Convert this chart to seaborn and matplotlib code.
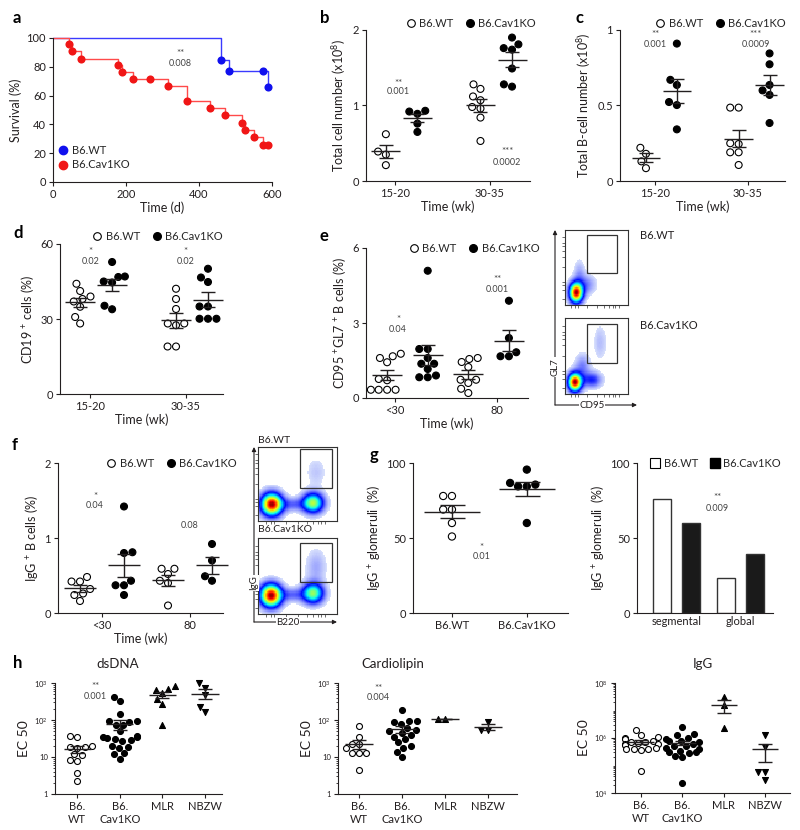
import warnings
import numpy as np
import pandas as pd
import matplotlib
matplotlib.use("Agg")
import matplotlib.pyplot as plt
import seaborn as sns
from matplotlib.lines import Line2D
from matplotlib.patches import Rectangle
from matplotlib.colors import ListedColormap, to_rgba
from matplotlib.ticker import LogLocator, NullFormatter

warnings.filterwarnings("ignore")

# ---------------- data ----------------
# a: survival curves
surv_wt_days = [0, 460, 482, 575, 588]
surv_wt_pct = [100, 85, 77, 77, 66]
surv_ko_days = [0, 43, 52, 78, 179, 188, 218, 266, 316, 366, 429, 470, 519, 527, 551, 575, 589]
surv_ko_pct = [100, 95.6, 90.8, 85.7, 81.3, 76.5, 71.4, 71.4, 66.6, 56.2, 51.2, 46.3, 41.0, 36.0, 31.0, 25.6, 25.6]

# b: total cell number (x10^8)
b_wt_1520 = [0.62, 0.39, 0.35, 0.21]
b_ko_1520 = [0.92, 0.89, 0.93, 0.76, 0.65]
b_wt_3035 = [1.22, 1.28, 1.12, 1.07, 0.96, 0.98, 0.84, 0.53]
b_ko_3035 = [1.81, 1.90, 1.74, 1.76, 1.49, 1.25, 1.28]

# c: total B-cell number (x10^8)
c_wt_1520 = [0.22, 0.18, 0.13, 0.085]
c_ko_1520 = [0.91, 0.67, 0.636, 0.523, 0.503, 0.342]
c_wt_3035 = [0.486, 0.486, 0.25, 0.245, 0.19, 0.19, 0.106]
c_ko_3035 = [0.845, 0.773, 0.636, 0.60, 0.57, 0.384]

# d: CD19+ cells (%)
d_wt_1520 = [44.1, 41.2, 39.0, 37.0, 38.0, 34.9, 30.8, 28.2]
d_ko_1520 = [52.8, 47.0, 46.8, 45.0, 44.6, 35.3, 33.9]
d_wt_3035 = [42.1, 38.0, 34.0, 28.2, 27.5, 28.2, 19.0, 19.0]
d_ko_3035 = [50.1, 44.8, 46.6, 35.0, 35.0, 30.1, 30.1, 30.1]

# e: CD95+GL7+ B cells (%)
e_wt_lt30 = [1.67, 1.43, 1.77, 1.60, 0.76, 0.71, 0.33, 0.33, 0.33, 0.33]
e_ko_lt30 = [5.09, 1.96, 1.96, 1.60, 1.37, 1.37, 1.16, 0.90, 0.83, 0.83]
e_wt_80 = [1.56, 1.60, 1.44, 1.24, 0.73, 0.60, 0.73, 0.37, 0.20]
e_ko_80 = [3.89, 2.40, 1.83, 1.67, 1.67]

# f: IgG+ B cells (%)
f_wt_lt30 = [0.42, 0.48, 0.42, 0.26, 0.32, 0.24, 0.16]
f_ko_lt30 = [1.42, 0.80, 0.81, 0.37, 0.37, 0.43, 0.24]
f_wt_80 = [0.59, 0.59, 0.52, 0.43, 0.40, 0.10]
f_ko_80 = [0.92, 0.70, 0.43, 0.49]

# g: IgG+ glomeruli (%)
g_wt = [78, 78, 69, 69, 60, 51]
g_ko = [95.6, 86.7, 84.4, 84.4, 85.6, 60]
g_bar_type = ["segmental", "segmental", "global", "global"]
g_bar_geno = ["B6.WT", "B6.Cav1KO", "B6.WT", "B6.Cav1KO"]
g_bar_pct = [76.2, 59.8, 23.1, 39.6]

# h: EC50
dsdna_wt = [38, 35, 20, 19, 18, 19, 12, 11, 8.5, 8, 3.6, 2.3]
dsdna_ko = [427, 325, 142, 95, 92, 90, 75, 72, 50, 38, 35, 35, 33, 30, 28, 27, 20, 19, 18, 13, 12, 9]
dsdna_mlr = [690, 830, 645, 525, 370, 265, 73]
dsdna_nbzw = [980, 745, 475, 230, 168]
cardio_wt = [68, 35, 23, 22, 17, 13, 12.5, 12.5, 4.5]
cardio_ko = [190, 95, 95, 90, 80, 62, 55, 50, 45, 40, 35, 30, 25, 20, 18, 14, 10]
cardio_mlr = [105, 105]
cardio_nbzw = [89, 55, 55]
igg_wt = [2.0e6, 1.3e6, 1.1e6, 1.0e6, 9e5, 8e5, 7e5, 7e5, 6.5e5, 6e5, 6e5, 5.5e5, 4.5e5, 4e5, 4e5, 4e5, 3.8e5, 6.5e4]
igg_ko = [2.5e6, 1.4e6, 1.3e6, 1.0e6, 9e5, 8e5, 8e5, 7e5, 6e5, 5e5, 5e5, 4.5e5, 4e5, 3.5e5, 3e5, 3e5, 2.8e5, 2.2e5, 2e5, 2.3e4]
igg_mlr = [3.1e7, 1.6e7, 2.4e6]
igg_nbzw = [1.3e6, 4.7e5, 5.6e4, 5.6e4, 2.9e4]

# flow cytometry sketches: populations (x, y, sx, sy, weight) and gates (x0, y0, x1, y1)
e_wt_pops = [(0.17, 0.16, 0.07, 0.09, 1.0), (0.33, 0.27, 0.10, 0.09, 0.12), (0.22, 0.42, 0.06, 0.12, 0.08)]
e_ko_pops = [(0.15, 0.15, 0.07, 0.08, 1.0), (0.42, 0.18, 0.11, 0.07, 0.22), (0.56, 0.68, 0.08, 0.16, 0.06),
             (0.27, 0.36, 0.08, 0.11, 0.12)]
f_wt_pops = [(0.17, 0.22, 0.09, 0.10, 1.0), (0.70, 0.24, 0.09, 0.09, 0.62), (0.44, 0.22, 0.12, 0.06, 0.14),
             (0.74, 0.66, 0.09, 0.14, 0.05)]
f_ko_pops = [(0.16, 0.24, 0.09, 0.10, 1.0), (0.70, 0.27, 0.09, 0.09, 0.58), (0.44, 0.25, 0.12, 0.06, 0.14),
             (0.74, 0.62, 0.09, 0.16, 0.08)]
e_gates = [(0.35, 0.43, 0.83, 0.93), (0.35, 0.41, 0.83, 0.92)]
f_gates = [(0.53, 0.45, 0.94, 0.97), (0.53, 0.42, 0.94, 0.93)]

# ---------------- style ----------------
sns.set_theme(style="ticks")
plt.rcParams["font.family"] = ["Lato", "DejaVu Sans"]
plt.rcParams["mathtext.default"] = "regular"
INK = "#231f20"
PAL = {"B6.WT": "white", "B6.Cav1KO": "black"}
RED_DOT, RED_LINE = "#f01616", "#ff4a4a"
BLUE_DOT, BLUE_LINE = "#1010ee", "#3a3aff"
_jet = plt.get_cmap("jet")(np.linspace(0.14, 0.98, 200))
_pale = np.linspace(np.array(to_rgba("#d6defc")), _jet[0], 56)
FLOW_CMAP = ListedColormap(np.vstack([_pale, _jet]))

fig = plt.figure(figsize=(8, 8.3), dpi=100)


def box(l, t, r, b):
    return [l / 800, 1 - b / 830, (r - l) / 800, (b - t) / 830]


def style(ax, labelsize=8):
    sns.despine(ax=ax)
    for s in ("left", "bottom"):
        ax.spines[s].set_color(INK)
        ax.spines[s].set_linewidth(0.8)
    ax.tick_params(length=3, width=0.8, labelsize=labelsize, color=INK, labelcolor=INK, pad=2)
    ax.tick_params(which="minor", length=1.8, width=0.6, color=INK)


def note(ax, x, y, s, size=6.5):
    ax.text(x, y, s, ha="center", va="center", fontsize=size, color="#444444")


def geno_legend(ax, x, y, marker="o", ms=5.5):
    h = [Line2D([], [], marker=marker, ls="", mfc="white", mec="black", mew=0.8, ms=ms, label="B6.WT"),
         Line2D([], [], marker=marker, ls="", mfc="black", mec="black", ms=ms, label="B6.Cav1KO")]
    ax.legend(handles=h, loc="center", bbox_to_anchor=(x, y), ncol=2, frameon=False, fontsize=8,
              handletextpad=0.35, columnspacing=1.1, handlelength=0.8, borderaxespad=0, borderpad=0)


def tidy(groups):
    return pd.concat([pd.DataFrame({"slot": s, "geno": g, "val": v}) for s, g, v in groups],
                     ignore_index=True)


def mean_sem(ax, df, order, half, cap):
    st = df.groupby("slot")["val"].agg(["mean", "sem"])
    for slot, row in st.iterrows():
        x = order.index(slot)
        ax.hlines(row["mean"], x - half, x + half, color=INK, lw=1, zorder=4)
        ax.errorbar(x, row["mean"], yerr=row["sem"], fmt="none", ecolor=INK, elinewidth=1,
                    capsize=cap, capthick=1, zorder=4)


def dot_panel(rect, groups, order, xlim, ticks, ticklabels, ylim, yticks, ylabel, half, cap=4.7):
    ax = fig.add_axes(box(*rect))
    df = tidy(groups)
    sns.swarmplot(data=df, x="slot", y="val", hue="geno", order=order, palette=PAL, size=5,
                  edgecolor="black", linewidth=0.8, legend=False, ax=ax, zorder=3)
    mean_sem(ax, df, order, half, cap)
    ax.set_xlim(*xlim)
    ax.set_ylim(*ylim)
    ax.set_yticks(yticks)
    ax.set_xticks(ticks, ticklabels)
    ax.set_ylabel(ylabel, fontsize=9, color=INK, labelpad=3)
    ax.set_xlabel("Time (wk)", fontsize=9, color=INK, labelpad=1)
    style(ax)
    for c in ax.collections:
        c.set_clip_on(False)
    return ax


# ---------------- a: survival ----------------
ax = fig.add_axes(box(53, 38, 272, 182))
sns.lineplot(x=surv_wt_days, y=surv_wt_pct, drawstyle="steps-post", estimator=None,
             color=BLUE_LINE, lw=1, clip_on=False, ax=ax)
sns.lineplot(x=surv_ko_days, y=surv_ko_pct, drawstyle="steps-post", estimator=None,
             color=RED_LINE, lw=1, clip_on=False, ax=ax)
sns.scatterplot(x=surv_wt_days[1:], y=surv_wt_pct[1:], color=BLUE_DOT, s=34, linewidth=0, ax=ax, zorder=3)
sns.scatterplot(x=surv_ko_days[1:], y=surv_ko_pct[1:], color=RED_DOT, s=34, linewidth=0, ax=ax, zorder=3)
ax.set_xlim(0, 600)
ax.set_ylim(0, 100)
ax.set_xticks([0, 200, 400, 600])
ax.set_yticks([0, 20, 40, 60, 80, 100])
ax.set_xlabel("Time (d)", fontsize=9, color=INK, labelpad=1)
ax.set_ylabel("Survival (%)", fontsize=9, color=INK, labelpad=3)
style(ax)
note(ax, 348, 89, "**", 7)
note(ax, 348, 82, "0.008")
ax.legend(handles=[Line2D([], [], marker="o", ls="", color=BLUE_DOT, ms=6, label="B6.WT"),
                   Line2D([], [], marker="o", ls="", color=RED_DOT, ms=6, label="B6.Cav1KO")],
          loc="lower left", bbox_to_anchor=(0.02, 0.08), frameon=False, fontsize=8,
          handletextpad=0.3, labelspacing=0.35, handlelength=1.0, borderaxespad=0, borderpad=0)

ORD5 = ["wt1", "ko1", "gap", "wt2", "ko2"]
ORD4 = ["wt1", "ko1", "wt2", "ko2"]

# ---------------- b ----------------
ax = dot_panel((366, 30, 530, 181),
               [("wt1", "B6.WT", b_wt_1520), ("ko1", "B6.Cav1KO", b_ko_1520),
                ("wt2", "B6.WT", b_wt_3035), ("ko2", "B6.Cav1KO", b_ko_3035)],
               ORD5, (-0.63, 4.57), [0.3, 3.3], ["15-20", "30-35"], (0, 2), [0, 1, 2],
               "Total cell number (x10$^{8}$)", 0.46)
note(ax, 0.39, 1.29, "**", 7)
note(ax, 0.39, 1.18, "0.001")
note(ax, 3.85, 0.39, "***", 7)
note(ax, 3.85, 0.25, "0.0002")
geno_legend(ax, 0.64, 1.046)

# ---------------- c ----------------
ax = dot_panel((620, 30, 785, 181),
               [("wt1", "B6.WT", c_wt_1520), ("ko1", "B6.Cav1KO", c_ko_1520),
                ("wt2", "B6.WT", c_wt_3035), ("ko2", "B6.Cav1KO", c_ko_3035)],
               ORD5, (-0.84, 4.5), [0.3, 3.3], ["15-20", "30-35"], (0, 1), [0, 0.5, 1],
               "Total B-cell number (x10$^{8}$)", 0.46)
ax.set_yticklabels(["0", "0.5", "1"])
note(ax, 0.3, 0.97, "**", 7)
note(ax, 0.3, 0.905, "0.001")
note(ax, 3.56, 0.97, "***", 7)
note(ax, 3.56, 0.905, "0.0009")
geno_legend(ax, 0.61, 1.046)

# ---------------- d ----------------
ax = dot_panel((60, 244, 223, 394),
               [("wt1", "B6.WT", d_wt_1520), ("ko1", "B6.Cav1KO", d_ko_1520),
                ("wt2", "B6.WT", d_wt_3035), ("ko2", "B6.Cav1KO", d_ko_3035)],
               ORD5, (-0.63, 4.47), [0.3, 3.3], ["15-20", "30-35"], (0, 60), [0, 30, 60],
               "CD19 $^{+}$ cells (%)", 0.46)
note(ax, 0.32, 57.1, "*", 7)
note(ax, 0.32, 53, "0.02")
note(ax, 3.3, 57.1, "*", 7)
note(ax, 3.3, 53, "0.02")
geno_legend(ax, 0.6, 1.053)

# ---------------- e ----------------
ax = dot_panel((366, 248, 528, 398),
               [("wt1", "B6.WT", e_wt_lt30), ("ko1", "B6.Cav1KO", e_ko_lt30),
                ("wt2", "B6.WT", e_wt_80), ("ko2", "B6.Cav1KO", e_ko_80)],
               ORD4, (-0.52, 3.47), [0.2, 2.7], ["<30", "80"], (0, 6), [0, 3, 6],
               "CD95 $^{+}$GL7 $^{+}$ B cells (%)", 0.37)
note(ax, 0.27, 3.13, "*", 7)
note(ax, 0.27, 2.76, "0.04")
note(ax, 2.71, 4.73, "**", 7)
note(ax, 2.71, 4.33, "0.001")
geno_legend(ax, 0.67, 1.0)

# ---------------- f ----------------
ax = dot_panel((58, 463, 223, 613),
               [("wt1", "B6.WT", f_wt_lt30), ("ko1", "B6.Cav1KO", f_ko_lt30),
                ("wt2", "B6.WT", f_wt_80), ("ko2", "B6.Cav1KO", f_ko_80)],
               ORD4, (-0.5, 3.25), [0.5, 2.5], ["<30", "80"], (0, 2), [0, 1, 2],
               "IgG $^{+}$ B cells (%)", 0.37)
note(ax, 0.34, 1.56, "*", 7)
note(ax, 0.34, 1.43, "0.04")
note(ax, 2.5, 1.17, "0.08")
geno_legend(ax, 0.69, 1.0)


# ---------------- flow cytometry sketches ----------------
def flow_panel(rect, pops, gate, n=64):
    fax = fig.add_axes(box(*rect))
    grid = np.linspace(0, 1, n)
    gx, gy = np.meshgrid(grid, grid)
    dens = np.zeros_like(gx)
    for cx, cy, sx, sy, w in pops:
        dens += w * np.exp(-((gx - cx) ** 2 / (2 * sx ** 2) + (gy - cy) ** 2 / (2 * sy ** 2)))
    sns.heatmap(dens, mask=dens < 0.025, cmap=FLOW_CMAP, vmin=0.025, vmax=dens.max(), cbar=False,
                xticklabels=False, yticklabels=False, ax=fax)
    fax.invert_yaxis()
    x0, y0, x1, y1 = gate
    fax.add_patch(Rectangle((x0 * n, y0 * n), (x1 - x0) * n, (y1 - y0) * n, fill=False, ec="#333333", lw=0.9))
    for sp in fax.spines.values():
        sp.set_visible(True)
        sp.set_color("#333333")
        sp.set_linewidth(0.8)
    fax.set_xticks(np.array([0.1, 0.16, 0.2, 0.35, 0.5, 0.62, 0.7, 0.76, 0.8, 0.85]) * n)
    fax.set_yticks(np.array([0.08, 0.2, 0.26, 0.3, 0.5, 0.64, 0.72, 0.78, 0.82, 0.9]) * n)
    fax.tick_params(length=2, width=0.5, color="#333333", labelleft=False, labelbottom=False)
    return fax


flow_panel((565, 230, 628, 305), e_wt_pops, e_gates[0])
flow_panel((565, 318, 628, 394), e_ko_pops, e_gates[1])
flow_panel((258, 447, 337, 521), f_wt_pops, f_gates[0])
flow_panel((258, 538, 337, 614), f_ko_pops, f_gates[1])

# ---------------- g left ----------------
ax = fig.add_axes(box(413, 463, 568, 613))
gdf = tidy([("B6.WT", "B6.WT", g_wt), ("B6.Cav1KO", "B6.Cav1KO", g_ko)])
g_order = ["B6.WT", "B6.Cav1KO"]
sns.swarmplot(data=gdf, x="slot", y="val", hue="geno", order=g_order, palette=PAL, size=5.2,
              edgecolor="black", linewidth=0.8, legend=False, ax=ax, zorder=3)
mean_sem(ax, gdf, g_order, 0.37, 9)
ax.set_xlim(-0.52, 1.55)
ax.set_ylim(0, 100)
ax.set_yticks([0, 50, 100])
ax.set_xticks([0, 1], g_order)
ax.set_xlabel("")
ax.set_ylabel("IgG $^{+}$ glomeruli  (%)", fontsize=9, color=INK, labelpad=3)
style(ax)
note(ax, 0.4, 44, "*", 7)
note(ax, 0.4, 37.8, "0.01")

# ---------------- g right ----------------
ax = fig.add_axes(box(637, 463, 773, 613))
sns.barplot(x=g_bar_type, y=g_bar_pct, hue=g_bar_geno, order=["segmental", "global"],
            hue_order=g_order, palette={"B6.WT": "white", "B6.Cav1KO": "#1a1a1a"},
            edgecolor="#333333", linewidth=1, width=0.92, gap=0.38, errorbar=None,
            legend=False, ax=ax)
ax.set_xlim(-0.63, 1.52)
ax.set_ylim(0, 100)
ax.set_yticks([0, 50, 100])
ax.set_ylabel("IgG $^{+}$ glomeruli  (%)", fontsize=9, color=INK, labelpad=3)
style(ax)
ax.tick_params(axis="x", length=0)
note(ax, 0.64, 76.7, "**", 7)
note(ax, 0.64, 70, "0.009")
geno_legend(ax, 0.58, 1.0, marker="s", ms=7)

# ---------------- h: EC50 ----------------
H_ORDER = ["B6.WT", "B6.Cav1KO", "MLR", "NBZW"]
H_LABELS = ["B6.\nWT", "B6.\nCav1KO", "MLR", "NBZW"]
H_STYLE = {"B6.WT": dict(color="white", marker="o"), "B6.Cav1KO": dict(color="black", marker="o"),
           "MLR": dict(color="black", marker="^"), "NBZW": dict(color="black", marker="v")}


def ec50_panel(rect, series, xlim, ylim, yticks, yticklabels, cap=5.2):
    hax = fig.add_axes(box(*rect))
    for name, vals in series:
        sns.swarmplot(x=[name] * len(vals), y=vals, order=H_ORDER, log_scale=True, size=4.3,
                      edgecolor="black", linewidth=0.8, ax=hax, zorder=3, **H_STYLE[name])
    df = tidy([(n, n, v) for n, v in series])
    mean_sem(hax, df, H_ORDER, 0.32, cap)
    hax.set_xlim(*xlim)
    hax.set_ylim(*ylim)
    hax.set_yticks(yticks, yticklabels)
    hax.yaxis.set_minor_locator(LogLocator(base=10, subs=np.arange(1, 10)))
    hax.yaxis.set_minor_formatter(NullFormatter())
    hax.set_xticks(range(4), H_LABELS)
    hax.set_ylabel("EC 50", fontsize=10, color=INK, labelpad=3)
    hax.set_xlabel("")
    style(hax)
    hax.tick_params(axis="y", which="major", labelsize=5.5)
    for c in hax.collections:
        c.set_clip_on(False)
    return hax


ax = ec50_panel((55, 683, 222, 794),
                [("B6.WT", dsdna_wt), ("B6.Cav1KO", dsdna_ko), ("MLR", dsdna_mlr), ("NBZW", dsdna_nbzw)],
                (-0.52, 3.4), (1, 1000), [1, 10, 100, 1000], ["1", "10", "$10^{2}$", "$10^{3}$"])
note(ax, 0.42, 780, "**", 7)
note(ax, 0.42, 420, "0.001")

ax = ec50_panel((338, 683, 517, 794),
                [("B6.WT", cardio_wt), ("B6.Cav1KO", cardio_ko), ("MLR", cardio_mlr), ("NBZW", cardio_nbzw)],
                (-0.49, 3.67), (1, 1000), [1, 10, 100, 1000], ["1", "10", "$10^{2}$", "$10^{3}$"])
note(ax, 0.44, 730, "**", 7)
note(ax, 0.44, 416, "0.004")

ax = ec50_panel((615, 683, 790, 793),
                [("B6.WT", igg_wt), ("B6.Cav1KO", igg_ko), ("MLR", igg_mlr), ("NBZW", igg_nbzw)],
                (-0.63, 3.6), (1e4, 1e8), [1e4, 1e6, 1e8], ["$10^{4}$", "$10^{6}$", "$10^{8}$"])

# ---------------- overlay: panel letters, flow axes, titles ----------------
ov = fig.add_axes([0, 0, 1, 1], zorder=10)
ov.set_xlim(0, 800)
ov.set_ylim(830, 0)
ov.axis("off")
ov.patch.set_alpha(0)
for letter, x, y in [("a", 13, 18), ("b", 320, 18), ("c", 576, 18), ("d", 13, 233),
                     ("e", 320, 236), ("f", 12, 445), ("g", 370, 455), ("h", 13, 663)]:
    ov.text(x, y, letter, fontsize=12, fontweight="bold", color="black", va="center", ha="left")

arrow = dict(arrowstyle="-|>", lw=0.8, color=INK, mutation_scale=6, shrinkA=0, shrinkB=0)
ov.annotate("", xy=(555, 230), xytext=(555, 405), arrowprops=arrow)
ov.annotate("", xy=(637, 405), xytext=(555, 405), arrowprops=arrow)
ov.text(555, 367, "GL7", rotation=90, fontsize=7, ha="center", va="center", color=INK,
        bbox=dict(fc="white", ec="none", pad=0.5))
ov.text(592, 405, "CD95", fontsize=7, ha="center", va="center", color=INK,
        bbox=dict(fc="white", ec="none", pad=0.5))
ov.text(640, 235, "B6.WT", fontsize=8, ha="left", va="center", color=INK)
ov.text(640, 325, "B6.Cav1KO", fontsize=8, ha="left", va="center", color=INK)

ov.annotate("", xy=(254, 447), xytext=(254, 622), arrowprops=arrow)
ov.annotate("", xy=(337, 622), xytext=(254, 622), arrowprops=arrow)
ov.text(254, 583, "IgG", rotation=90, fontsize=7, ha="center", va="center", color=INK,
        bbox=dict(fc="white", ec="none", pad=0.5))
ov.text(288, 622, "B220", fontsize=7, ha="center", va="center", color=INK,
        bbox=dict(fc="white", ec="none", pad=0.5))
ov.text(258, 440, "B6.WT", fontsize=7.5, ha="left", va="center", color=INK)
ov.text(258, 529, "B6.Cav1KO", fontsize=7.5, ha="left", va="center", color=INK)

for title, x in [("dsDNA", 118), ("Cardiolipin", 393), ("IgG", 703)]:
    ov.text(x, 664, title, fontsize=9.5, ha="center", va="center", color=INK)

# blank out a stray off-canvas artefact in the bottom-left corner
ov.add_patch(Rectangle((0, 812), 9, 18, fc="white", ec="none", zorder=50, clip_on=False))

fig.savefig("out.png", dpi=100)
